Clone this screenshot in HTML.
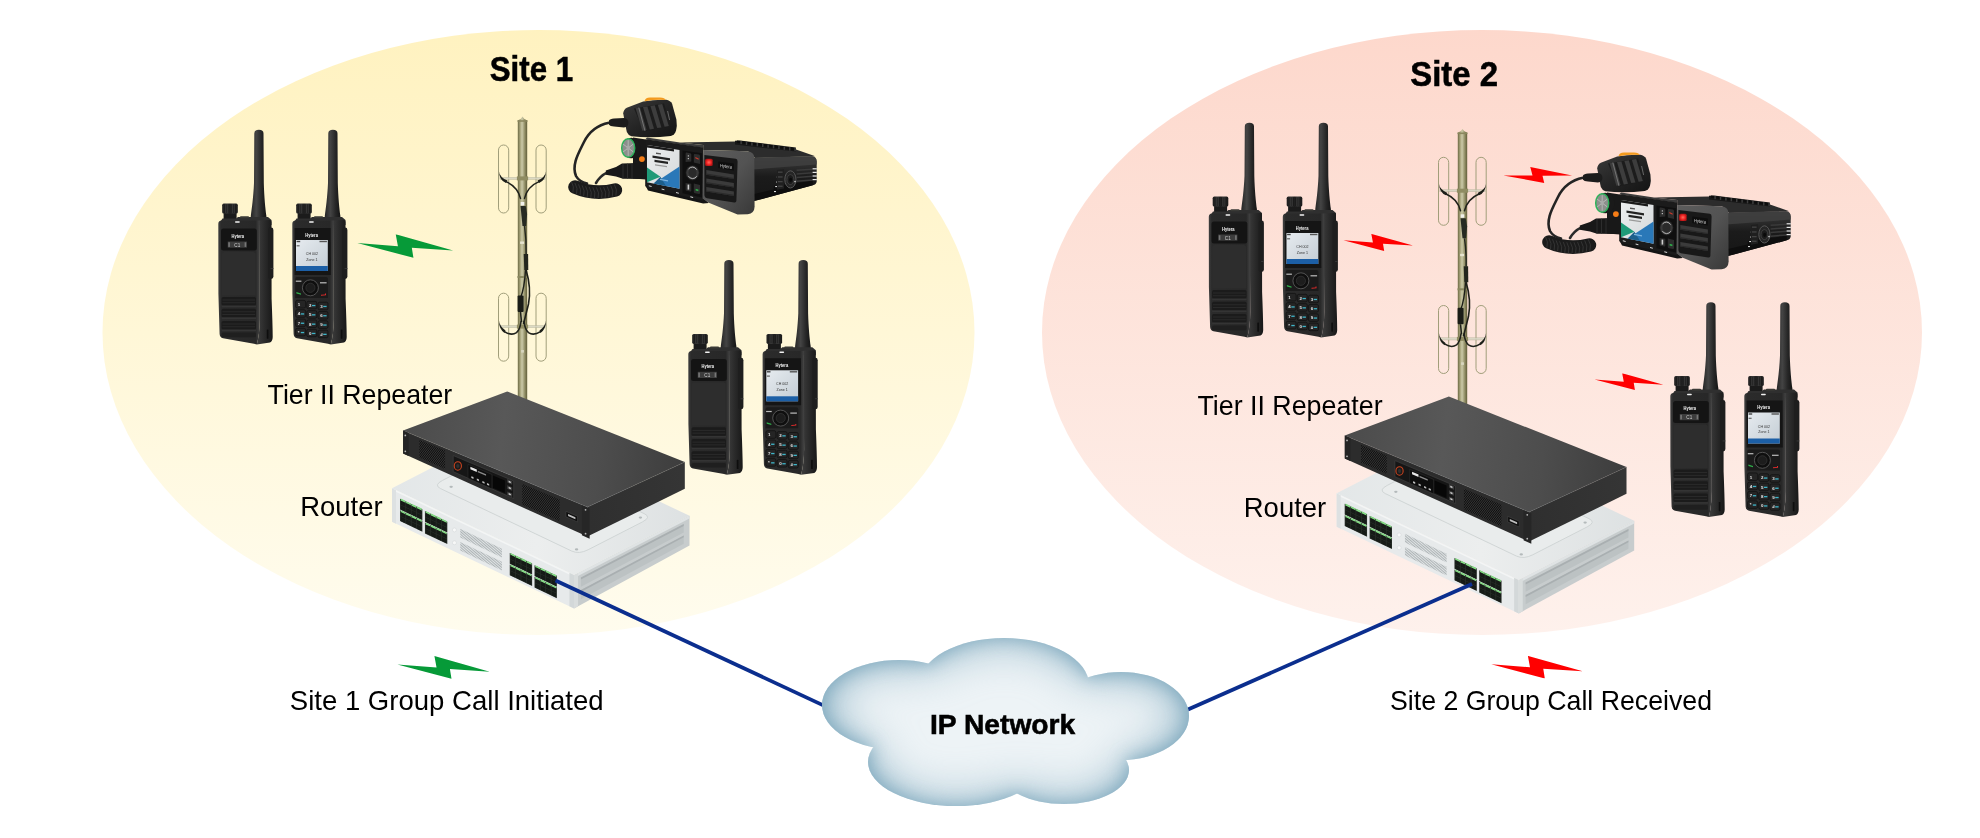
<!DOCTYPE html>
<html><head><meta charset="utf-8"><title>Multi-site group call</title>
<style>
html,body{margin:0;padding:0;background:#fff;}
body{width:1980px;height:838px;overflow:hidden;font-family:"Liberation Sans",sans-serif;}
svg{display:block;will-change:transform;}
text{font-family:"Liberation Sans",sans-serif;fill:#000;}
</style></head><body>
<svg width="1980" height="838" viewBox="0 0 1980 838">
<defs>
<linearGradient id="gY" x1="0" y1="0" x2="0" y2="1"><stop offset="0" stop-color="#FFF2C0"/><stop offset="1" stop-color="#FFFCEE"/></linearGradient>
<linearGradient id="gP" x1="0" y1="0" x2="0" y2="1"><stop offset="0" stop-color="#FDD8CC"/><stop offset="1" stop-color="#FEF1EC"/></linearGradient>
<radialGradient id="gC" cx="0.5" cy="0.5" r="0.5"><stop offset="0" stop-color="#F1F6F9"/><stop offset="0.6" stop-color="#DCE8EE"/><stop offset="0.85" stop-color="#C2D6E0"/><stop offset="1" stop-color="#A8C4D2"/></radialGradient>
<symbol id="bolt" viewBox="0 0 100 25" preserveAspectRatio="none"><polygon points="0,9.2 42.4,12.5 40.1,0 100,17 56.9,14.2 58.6,24.8"/></symbol>

<linearGradient id="antG" x1="0" y1="0" x2="1" y2="0"><stop offset="0" stop-color="#262626"/><stop offset="0.35" stop-color="#444"/><stop offset="0.7" stop-color="#262626"/><stop offset="1" stop-color="#141414"/></linearGradient>
<linearGradient id="knobG" x1="0" y1="0" x2="1" y2="0"><stop offset="0" stop-color="#1a1a1a"/><stop offset="0.3" stop-color="#3c3c3c"/><stop offset="0.5" stop-color="#202020"/><stop offset="0.7" stop-color="#3a3a3a"/><stop offset="1" stop-color="#161616"/></linearGradient>
<linearGradient id="frontG" x1="0" y1="0" x2="1" y2="0"><stop offset="0" stop-color="#404040"/><stop offset="0.07" stop-color="#2b2b2b"/><stop offset="0.9" stop-color="#282828"/><stop offset="1" stop-color="#444"/></linearGradient>
<linearGradient id="sideG" x1="0" y1="0" x2="1" y2="0"><stop offset="0" stop-color="#3e3e3e"/><stop offset="0.5" stop-color="#2a2a2a"/><stop offset="1" stop-color="#181818"/></linearGradient>
<linearGradient id="scrG" x1="0" y1="0" x2="1" y2="1"><stop offset="0" stop-color="#e6ebef"/><stop offset="1" stop-color="#c3ccd4"/></linearGradient>
<g id="radioA"><path d="M36.3,4.5 Q36.3,0.8 40.9,0.8 Q45.5,0.8 45.5,4.5 L45.8,54 C46.2,68 47.4,80 48.4,87 L48.4,92 L32.8,92 L32.8,87 C33.8,80 35.4,68 36,54 Z" fill="url(#antG)"/><rect x="5.6" y="84" width="13" height="8" fill="#1b1b1b"/><rect x="4.2" y="74.6" width="15.6" height="10" rx="1.6" fill="url(#knobG)"/><rect x="6.2" y="75.4" width="0.7" height="8.6" fill="#0f0f0f" opacity="0.7"/><rect x="8.4" y="75.4" width="0.7" height="8.6" fill="#0f0f0f" opacity="0.7"/><rect x="10.6" y="75.4" width="0.7" height="8.6" fill="#0f0f0f" opacity="0.7"/><rect x="12.8" y="75.4" width="0.7" height="8.6" fill="#0f0f0f" opacity="0.7"/><rect x="15" y="75.4" width="0.7" height="8.6" fill="#0f0f0f" opacity="0.7"/><rect x="17.2" y="75.4" width="0.7" height="8.6" fill="#0f0f0f" opacity="0.7"/><path d="M2.5,92.5 L4.5,89.6 L18,89.6 L20,88 L50,88 L53.5,91 L53.5,96 L2.5,96 Z" fill="#2f2f2f"/><rect x="22" y="87.2" width="9" height="2" rx="0.8" fill="#3a3a36"/><path d="M41,91.5 L52,91 Q53.4,91 53.5,93 L53.6,170 Q54.6,195 54.7,208 Q54.6,212.4 52,213.6 L38.8,215.5 Q41.6,205 41.8,190 Z" fill="url(#sideG)"/><rect x="48.8" y="200.5" width="1.7" height="9.2" rx="0.6" fill="#0e0e0e"/><rect x="50" y="98.5" width="5.4" height="51.5" rx="2.4" fill="#1e1e1e"/><rect x="52.6" y="139" width="2.8" height="0.9" fill="#3a3a3a"/><path d="M0.3,95 Q0.3,91.8 3.4,91.6 L41.6,91.6 L41.9,190 Q41.7,205 38.8,215.5 L36,214.8 L5,209.2 Q1.8,208.6 1.6,205 L0.4,165 Z" fill="url(#frontG)"/><rect x="17" y="92.2" width="4.8" height="1.5" rx="0.7" fill="#f2f2f2"/><rect x="3" y="99.6" width="35.8" height="22" rx="2.5" fill="#141414"/><text x="19.8" y="108.8" font-size="5.2" font-weight="700" text-anchor="middle" style="fill:#f4f4f4" textLength="12.6" lengthAdjust="spacingAndGlyphs">Hytera</text><rect x="9.7" y="112.5" width="19.2" height="6.2" fill="#3d3d3d"/><text x="19.3" y="117.6" font-size="4.6" text-anchor="middle" style="fill:#cfcfcf">C1</text><rect x="10.3" y="113.3" width="1.6" height="4.6" fill="#777"/><rect x="26.6" y="113.3" width="1.6" height="4.6" fill="#777"/><path d="M3.6,125.5 Q3.6,123 6,123 L35.4,123 Q37.8,123 37.8,125.5 L37.8,166.5 L3.6,166.5 Z" fill="#2d2d2d"/><rect x="3.6" y="168" width="34.4" height="8.6" rx="1.5" fill="#1b1b1b"/><rect x="4.4" y="170.6" width="32.8" height="0.8" fill="#2e2e2e"/><rect x="4.4" y="173.4" width="32.8" height="0.8" fill="#2e2e2e"/><rect x="3.6" y="176.6" width="34.4" height="1.6" fill="#343434"/><rect x="3.6" y="179.8" width="34.4" height="8.6" rx="1.5" fill="#1b1b1b"/><rect x="4.4" y="182.4" width="32.8" height="0.8" fill="#2e2e2e"/><rect x="4.4" y="185.20000000000002" width="32.8" height="0.8" fill="#2e2e2e"/><rect x="3.6" y="188.4" width="34.4" height="1.6" fill="#343434"/><rect x="3.6" y="192" width="34.4" height="8.6" rx="1.5" fill="#1b1b1b"/><rect x="4.4" y="194.6" width="32.8" height="0.8" fill="#2e2e2e"/><rect x="4.4" y="197.4" width="32.8" height="0.8" fill="#2e2e2e"/><rect x="3.6" y="200.6" width="34.4" height="1.6" fill="#343434"/><rect x="3.6" y="203.6" width="34.4" height="4.6" rx="1.5" fill="#1f1f1f"/></g><g id="radioB"><path d="M36.3,4.5 Q36.3,0.8 40.9,0.8 Q45.5,0.8 45.5,4.5 L45.8,54 C46.2,68 47.4,80 48.4,87 L48.4,92 L32.8,92 L32.8,87 C33.8,80 35.4,68 36,54 Z" fill="url(#antG)"/><rect x="5.6" y="84" width="13" height="8" fill="#1b1b1b"/><rect x="4.2" y="74.6" width="15.6" height="10" rx="1.6" fill="url(#knobG)"/><rect x="6.2" y="75.4" width="0.7" height="8.6" fill="#0f0f0f" opacity="0.7"/><rect x="8.4" y="75.4" width="0.7" height="8.6" fill="#0f0f0f" opacity="0.7"/><rect x="10.6" y="75.4" width="0.7" height="8.6" fill="#0f0f0f" opacity="0.7"/><rect x="12.8" y="75.4" width="0.7" height="8.6" fill="#0f0f0f" opacity="0.7"/><rect x="15" y="75.4" width="0.7" height="8.6" fill="#0f0f0f" opacity="0.7"/><rect x="17.2" y="75.4" width="0.7" height="8.6" fill="#0f0f0f" opacity="0.7"/><path d="M2.5,92.5 L4.5,89.6 L18,89.6 L20,88 L50,88 L53.5,91 L53.5,96 L2.5,96 Z" fill="#2f2f2f"/><rect x="22" y="87.2" width="9" height="2" rx="0.8" fill="#3a3a36"/><path d="M41,91.5 L52,91 Q53.4,91 53.5,93 L53.6,170 Q54.6,195 54.7,208 Q54.6,212.4 52,213.6 L38.8,215.5 Q41.6,205 41.8,190 Z" fill="url(#sideG)"/><rect x="48.8" y="200.5" width="1.7" height="9.2" rx="0.6" fill="#0e0e0e"/><rect x="50" y="98.5" width="5.4" height="51.5" rx="2.4" fill="#1e1e1e"/><rect x="52.6" y="139" width="2.8" height="0.9" fill="#3a3a3a"/><path d="M0.3,95 Q0.3,91.8 3.4,91.6 L41.6,91.6 L41.9,190 Q41.7,205 38.8,215.5 L36,214.8 L5,209.2 Q1.8,208.6 1.6,205 L0.4,165 Z" fill="url(#frontG)"/><rect x="17" y="92.2" width="4.8" height="1.5" rx="0.7" fill="#f2f2f2"/><path d="M2.6,99 L38.6,99 L38.8,146 L2.6,146 Z" fill="#151515"/><text x="19.6" y="107.8" font-size="5.2" font-weight="700" text-anchor="middle" style="fill:#f4f4f4" textLength="12.6" lengthAdjust="spacingAndGlyphs">Hytera</text><rect x="4" y="111" width="31.8" height="31" fill="url(#scrG)"/><rect x="4" y="137" width="31.8" height="5" fill="#1c5fa6"/><rect x="4.6" y="111.8" width="3.6" height="1.4" fill="#444"/><rect x="27.5" y="111.8" width="7.4" height="1.4" fill="#555"/><rect x="4.6" y="116.2" width="3" height="1.2" fill="#666"/><text x="19.9" y="126" font-size="3.6" text-anchor="middle" style="fill:#333">CH 002</text><text x="19.9" y="131.8" font-size="3.6" text-anchor="middle" style="fill:#333">Zone 1</text><path d="M3.2,150 Q3.2,148 5.2,148 L34,148 Q36,148 36,150 L36,169 L3.2,169 Z" fill="#1b1b1b"/><circle cx="18.4" cy="158.8" r="8" fill="#0f0f0f" stroke="#5a5a5a" stroke-width="0.9"/><circle cx="18.4" cy="158.8" r="4.6" fill="#1d1d1d" stroke="#3a3a3a" stroke-width="0.6"/><rect x="3.8" y="151.6" width="5.6" height="1.2" fill="#bdbdbd"/><rect x="28" y="153.2" width="6.6" height="1.2" fill="#bdbdbd"/><path d="M4.4,163 l4.6,1.4 l0,1.4 l-4.6,-1.4z" fill="#2fae4a"/><path d="M29,166.8 l5,-0.6 l0,-1.6 l-1,0 l0,0.8 l-4,0.4z" fill="#e02b2b"/><rect x="3.6" y="171.4" width="10" height="7.6" rx="1.6" fill="#252525" stroke="#0c0c0c" stroke-width="0.6"/><text x="5.8" y="177.0" font-size="4.4" font-weight="700" style="fill:#e8e8e8">1</text><rect x="14.8" y="172.3" width="10" height="7.6" rx="1.6" fill="#252525" stroke="#0c0c0c" stroke-width="0.6"/><text x="17.0" y="177.9" font-size="4.4" font-weight="700" style="fill:#e8e8e8">2</text><rect x="20.0" y="175.9" width="3.4" height="1.3" fill="#3fb5c9"/><rect x="26.0" y="173.2" width="10" height="7.6" rx="1.6" fill="#252525" stroke="#0c0c0c" stroke-width="0.6"/><text x="28.2" y="178.8" font-size="4.4" font-weight="700" style="fill:#e8e8e8">3</text><rect x="31.2" y="176.8" width="3.4" height="1.3" fill="#3fb5c9"/><rect x="3.6" y="180.7" width="10" height="7.6" rx="1.6" fill="#252525" stroke="#0c0c0c" stroke-width="0.6"/><text x="5.8" y="186.3" font-size="4.4" font-weight="700" style="fill:#e8e8e8">4</text><rect x="8.8" y="184.3" width="3.4" height="1.3" fill="#3fb5c9"/><rect x="14.8" y="181.6" width="10" height="7.6" rx="1.6" fill="#252525" stroke="#0c0c0c" stroke-width="0.6"/><text x="17.0" y="187.2" font-size="4.4" font-weight="700" style="fill:#e8e8e8">5</text><rect x="20.0" y="185.2" width="3.4" height="1.3" fill="#3fb5c9"/><rect x="26.0" y="182.5" width="10" height="7.6" rx="1.6" fill="#252525" stroke="#0c0c0c" stroke-width="0.6"/><text x="28.2" y="188.1" font-size="4.4" font-weight="700" style="fill:#e8e8e8">6</text><rect x="31.2" y="186.1" width="3.4" height="1.3" fill="#3fb5c9"/><rect x="3.6" y="190.0" width="10" height="7.6" rx="1.6" fill="#252525" stroke="#0c0c0c" stroke-width="0.6"/><text x="5.8" y="195.6" font-size="4.4" font-weight="700" style="fill:#e8e8e8">7</text><rect x="8.8" y="193.6" width="3.4" height="1.3" fill="#3fb5c9"/><rect x="14.8" y="190.9" width="10" height="7.6" rx="1.6" fill="#252525" stroke="#0c0c0c" stroke-width="0.6"/><text x="17.0" y="196.5" font-size="4.4" font-weight="700" style="fill:#e8e8e8">8</text><rect x="20.0" y="194.5" width="3.4" height="1.3" fill="#3fb5c9"/><rect x="26.0" y="191.8" width="10" height="7.6" rx="1.6" fill="#252525" stroke="#0c0c0c" stroke-width="0.6"/><text x="28.2" y="197.4" font-size="4.4" font-weight="700" style="fill:#e8e8e8">9</text><rect x="31.2" y="195.4" width="3.4" height="1.3" fill="#3fb5c9"/><rect x="3.6" y="199.3" width="10" height="7.6" rx="1.6" fill="#252525" stroke="#0c0c0c" stroke-width="0.6"/><text x="5.8" y="204.9" font-size="4.4" font-weight="700" style="fill:#e8e8e8">*</text><rect x="8.8" y="202.9" width="3.4" height="1.3" fill="#3fb5c9"/><rect x="14.8" y="200.2" width="10" height="7.6" rx="1.6" fill="#252525" stroke="#0c0c0c" stroke-width="0.6"/><text x="17.0" y="205.8" font-size="4.4" font-weight="700" style="fill:#e8e8e8">0</text><rect x="20.0" y="203.8" width="3.4" height="1.3" fill="#3fb5c9"/><rect x="26.0" y="201.1" width="10" height="7.6" rx="1.6" fill="#252525" stroke="#0c0c0c" stroke-width="0.6"/><text x="28.2" y="206.7" font-size="4.4" font-weight="700" style="fill:#e8e8e8">#</text><rect x="31.2" y="204.7" width="3.4" height="1.3" fill="#3fb5c9"/></g>
<linearGradient id="poleG" x1="0" y1="0" x2="1" y2="0"><stop offset="0" stop-color="#6c6943"/><stop offset="0.25" stop-color="#a8a57c"/><stop offset="0.45" stop-color="#cbc9a8"/><stop offset="0.75" stop-color="#908d64"/><stop offset="1" stop-color="#615e3a"/></linearGradient>
<g id="tower"><path d="M-4.7,2.5 L-1.6,0.8 L0,-1.4 L1.6,0.8 L4.7,2.5 L4.7,284 L-4.7,284 Z" fill="url(#poleG)"/><rect x="-5" y="2.2" width="10" height="1.6" fill="#8a875e"/><rect x="-24.0" y="27" width="10.2" height="68" rx="5.1" fill="none" stroke="#a19e7a" stroke-width="1"/><rect x="13.5" y="27" width="10.2" height="68" rx="5.1" fill="none" stroke="#a19e7a" stroke-width="1"/><rect x="-22.6" y="59.3" width="45.2" height="2.2" fill="#d6d5c2" stroke="#a9a78e" stroke-width="0.4" opacity="0.85"/><rect x="-5.6" y="58.4" width="11.2" height="4" fill="#8f8c62"/><path d="M-23.6,53.4 Q-22.6,59.4 -15,62.6 L-16.5,65.0 Q-23,62.4 -23.6,53.4 Z" fill="#1d1f19"/><path d="M-17,63.4 Q-5,68.4 -2,80.4" fill="none" stroke="#1f211b" stroke-width="1.5" stroke-linecap="round"/><path d="M23.6,53.4 Q22.6,59.4 15,62.6 L16.5,65.0 Q23,62.4 23.6,53.4 Z" fill="#1d1f19"/><path d="M17,63.4 Q5,68.4 2,80.4" fill="none" stroke="#1f211b" stroke-width="1.5" stroke-linecap="round"/><rect x="-24.0" y="175.2" width="10.2" height="68" rx="5.1" fill="none" stroke="#a19e7a" stroke-width="1"/><rect x="13.5" y="175.2" width="10.2" height="68" rx="5.1" fill="none" stroke="#a19e7a" stroke-width="1"/><rect x="-22.6" y="207.5" width="45.2" height="2.2" fill="#d6d5c2" stroke="#a9a78e" stroke-width="0.4" opacity="0.85"/><rect x="-5.6" y="206.6" width="11.2" height="4" fill="#8f8c62"/><path d="M-23.6,202.6 Q-22.8,208.6 -17,212.6 L-18,215.0 Q-23.4,211.6 -23.6,202.6 Z" fill="#1d1f19"/><path d="M-18,213.6 Q-11,218.1 -6,214.6 Q-2.5,211.6 -1.5,203.6" fill="none" stroke="#1f211b" stroke-width="1.5" stroke-linecap="round"/><path d="M23.6,202.6 Q22.8,208.6 17,212.6 L18,215.0 Q23.4,211.6 23.6,202.6 Z" fill="#1d1f19"/><path d="M18,213.6 Q11,218.1 6,214.6 Q2.5,211.6 1.5,203.6" fill="none" stroke="#1f211b" stroke-width="1.5" stroke-linecap="round"/><rect x="-1.8" y="84" width="3.6" height="3.4" fill="#f1f1ec"/><path d="M-2,88 L3.2,88 L4.6,96 L3.6,108 L0,108 Z" fill="#262a22"/><path d="M2,108 Q4,122 3.6,136" fill="none" stroke="#23261e" stroke-width="1.4"/><rect x="-2.4" y="123.5" width="4" height="2.4" fill="#e6e4d0"/><path d="M1.2,136 L5.6,136 L5.8,152 L1.8,152 Z" fill="#23261e"/><rect x="-5" y="158" width="10" height="2" fill="#8a8860"/><path d="M3.6,152 Q9,170 6,186 Q3,198 1,206" fill="none" stroke="#1d1f19" stroke-width="1.6"/><path d="M3,152 Q2,170 -2,180" fill="none" stroke="#1d1f19" stroke-width="1.4"/><rect x="-4.9" y="177.5" width="6" height="16.5" rx="1" fill="#1a1c17"/><path d="M-2,194 L-1,204" stroke="#1d1f19" stroke-width="1.5"/><rect x="-1.4" y="232" width="2.8" height="2.6" fill="#d8d6c0"/></g>
<linearGradient id="repTop" gradientUnits="userSpaceOnUse" x1="403" y1="430" x2="685" y2="462"><stop offset="0" stop-color="#4b4b4b"/><stop offset="0.35" stop-color="#585858"/><stop offset="0.7" stop-color="#4d4d4d"/><stop offset="1" stop-color="#3d3d3d"/></linearGradient>
<linearGradient id="repSide" gradientUnits="userSpaceOnUse" x1="587" y1="507" x2="685" y2="489"><stop offset="0" stop-color="#2f2f2f"/><stop offset="1" stop-color="#353535"/></linearGradient>
<linearGradient id="rtTop" gradientUnits="userSpaceOnUse" x1="392" y1="488" x2="690" y2="516"><stop offset="0" stop-color="#e3e7e8"/><stop offset="0.5" stop-color="#eceeee"/><stop offset="1" stop-color="#dde1e2"/></linearGradient>
<pattern id="meshD" width="1.7" height="1.7" patternUnits="userSpaceOnUse" patternTransform="rotate(38)"><rect width="1.7" height="1.7" fill="#383838"/><rect width="0.9" height="1.7" fill="#0c0c0c"/></pattern>
<pattern id="meshL" width="1.3" height="1.3" patternUnits="userSpaceOnUse" patternTransform="rotate(30)"><rect width="1.3" height="1.3" fill="#dfe3e4"/><rect width="0.6" height="1.3" fill="#aab0b2"/></pattern>
<g id="repeater"><polygon points="587.40,507.00 684.80,462.10 684.80,488.80 587.40,536.60" fill="url(#repSide)"/><polygon points="403.10,430.60 587.40,507.00 587.40,536.60 403.10,453.50" fill="#2c2c2c"/><polygon points="403.10,430.60 507.20,391.50 684.80,462.10 587.40,507.00" fill="url(#repTop)"/><polyline points="403.10,430.60 587.40,507.00 684.80,462.10" fill="none" stroke="#6a6a6a" stroke-width="0.6" opacity="0.6"/><polygon points="403.10,430.60 408.63,432.89 408.63,455.99 403.10,453.50" fill="#242424"/><polygon points="581.87,505.30 589.61,508.51 589.61,538.78 581.87,535.28" fill="#262626"/><circle cx="405.31" cy="435.42" r="0.9" fill="#b8b8b8"/><circle cx="405.31" cy="451.28" r="0.9" fill="#b8b8b8"/><circle cx="585.56" cy="509.78" r="0.9" fill="#b8b8b8"/><circle cx="585.56" cy="533.70" r="0.9" fill="#b8b8b8"/><polygon points="419.32,439.67 445.12,450.46 445.12,469.03 419.32,457.52" fill="url(#meshD)"/><polygon points="522.16,483.77 559.75,499.54 559.75,521.28 522.16,504.46" fill="url(#meshD)"/><polygon points="453.23,455.58 513.68,481.02 513.68,498.51 453.23,471.65" fill="#161616" stroke="#4b4b4b" stroke-width="0.5"/><ellipse cx="457.84" cy="465.98" rx="3.6" ry="4.3" fill="#1a1a1a" stroke="#c8431f" stroke-width="1.1"/><ellipse cx="457.84" cy="465.98" rx="1.6" ry="2.1" fill="#303030"/><polygon points="467.97,464.31 491.93,474.48 491.93,488.85 467.97,478.20" fill="#0d0d0d" stroke="#3d3d3d" stroke-width="0.4"/><polygon points="470.37,466.85 476.82,469.60 476.82,471.90 470.37,469.13" fill="#e8e8e8"/><polygon points="477.74,470.76 486.04,474.31 486.04,475.86 477.74,472.30" fill="#8a8a8a"/><polygon points="471.29,476.13 473.50,477.10 473.50,478.88 471.29,477.90" fill="#bdbdbd"/><polygon points="476.82,478.55 479.03,479.53 479.03,481.32 476.82,480.35" fill="#bdbdbd"/><polygon points="482.35,480.98 484.56,481.95 484.56,483.76 482.35,482.79" fill="#bdbdbd"/><polygon points="486.96,483.01 489.17,483.98 489.17,485.80 486.96,484.82" fill="#bdbdbd"/><polygon points="492.85,475.39 504.83,480.49 504.83,492.99 492.85,487.69" fill="#070707"/><polygon points="507.23,479.10 512.21,481.20 512.21,484.69 507.23,482.57" fill="#3f3f3f"/><polygon points="508.70,480.79 510.73,481.65 510.73,482.99 508.70,482.13" fill="#e0e0e0"/><polygon points="507.23,485.24 512.21,487.38 512.21,490.87 507.23,488.71" fill="#3f3f3f"/><polygon points="508.70,486.94 510.73,487.82 510.73,489.16 508.70,488.28" fill="#e0e0e0"/><polygon points="507.23,491.38 512.21,493.56 512.21,497.05 507.23,494.85" fill="#3f3f3f"/><polygon points="508.70,493.09 510.73,493.99 510.73,495.33 508.70,494.43" fill="#e0e0e0"/><polygon points="566.02,511.40 577.45,516.32 577.45,521.88 566.02,516.87" fill="#0e0e0e" stroke="#555" stroke-width="0.4"/><polygon points="568.05,514.00 575.42,517.20 575.42,519.24 568.05,516.03" fill="#bdbdbd"/></g><g id="router"><polygon points="574.00,575.00 689.50,515.80 689.50,545.40 574.00,608.40" fill="#c7cccd"/><polygon points="577.47,573.22 689.50,515.80 689.50,518.46 577.47,576.22" fill="#dfe3e4"/><polygon points="580.93,577.42 683.73,524.12 683.73,532.46 580.93,586.71" fill="#bcc2c3"/><polygon points="580.93,577.42 683.73,524.12 683.73,525.91 580.93,579.41" fill="#a9afb1"/><polygon points="580.93,590.02 683.73,535.44 683.73,543.78 580.93,599.31" fill="#bcc2c3"/><polygon points="580.93,590.02 683.73,535.44 683.73,537.23 580.93,592.01" fill="#a9afb1"/><polygon points="574.00,575.00 578.04,572.93 578.04,606.19 574.00,608.40" fill="#d9dddd"/><polygon points="392.00,488.30 507.50,429.10 689.50,515.80 574.00,575.00" fill="url(#rtTop)"/><path d="M440.58,488.60 L571.62,551.02 Q578.90,554.49 588.14,549.75 L642.42,521.93 Q651.66,517.19 644.38,513.73 L513.35,451.30 Q506.06,447.83 496.82,452.57 L442.54,480.39 Q433.30,485.13 440.58,488.60 Z" fill="#e9ecec" stroke="#cdd2d3" stroke-width="0.9"/><ellipse cx="451.15" cy="486.78" rx="1.7" ry="1.1" fill="#b4babb"/><ellipse cx="576.57" cy="549.38" rx="1.7" ry="1.1" fill="#b4babb"/><ellipse cx="640.43" cy="517.55" rx="1.7" ry="1.1" fill="#b4babb"/><polygon points="392.00,488.30 574.00,575.00 574.00,608.40 392.00,521.80" fill="#e7eaeb"/><polygon points="392.00,488.30 574.00,575.00 574.00,576.67 392.00,489.98" fill="#f3f5f5"/><polygon points="392.00,488.30 396.00,490.21 396.00,523.71 392.00,521.80" fill="#dde1e2"/><polygon points="569.45,572.83 574.00,575.00 574.00,608.40 569.45,606.24" fill="#d3d8d9"/><polygon points="400.01,498.65 422.39,509.31 422.39,520.19 400.01,509.53" fill="#2a312b"/><polygon points="400.74,498.59 405.42,500.82 405.42,503.23 400.74,501.00" fill="#84dc84"/><polygon points="400.74,500.50 405.42,502.73 405.42,506.92 400.74,504.69" fill="#161b17"/><polygon points="400.74,505.19 405.42,507.42 405.42,511.61 400.74,509.38" fill="#161b17"/><polygon points="406.15,501.17 410.84,503.40 410.84,505.81 406.15,503.58" fill="#84dc84"/><polygon points="406.15,503.08 410.84,505.31 410.84,509.50 406.15,507.27" fill="#161b17"/><polygon points="406.15,507.77 410.84,510.00 410.84,514.19 406.15,511.95" fill="#161b17"/><polygon points="411.56,503.75 416.25,505.98 416.25,508.39 411.56,506.16" fill="#84dc84"/><polygon points="411.56,505.66 416.25,507.89 416.25,512.08 411.56,509.84" fill="#161b17"/><polygon points="411.56,510.35 416.25,512.58 416.25,516.76 411.56,514.53" fill="#161b17"/><polygon points="416.98,506.33 421.67,508.56 421.67,510.97 416.98,508.74" fill="#84dc84"/><polygon points="416.98,508.24 421.67,510.47 421.67,514.65 416.98,512.42" fill="#161b17"/><polygon points="416.98,512.92 421.67,515.16 421.67,519.34 416.98,517.11" fill="#161b17"/><polygon points="400.01,510.20 422.39,520.86 422.39,531.74 400.01,521.09" fill="#2a312b"/><polygon points="400.74,510.15 405.42,512.38 405.42,514.79 400.74,512.56" fill="#84dc84"/><polygon points="400.74,512.06 405.42,514.29 405.42,518.47 400.74,516.24" fill="#161b17"/><polygon points="400.74,516.75 405.42,518.98 405.42,523.16 400.74,520.93" fill="#161b17"/><polygon points="406.15,512.72 410.84,514.96 410.84,517.37 406.15,515.14" fill="#84dc84"/><polygon points="406.15,514.63 410.84,516.86 410.84,521.05 406.15,518.82" fill="#161b17"/><polygon points="406.15,519.32 410.84,521.55 410.84,525.74 406.15,523.51" fill="#161b17"/><polygon points="411.56,515.30 416.25,517.53 416.25,519.94 411.56,517.71" fill="#84dc84"/><polygon points="411.56,517.21 416.25,519.44 416.25,523.63 411.56,521.40" fill="#161b17"/><polygon points="411.56,521.90 416.25,524.13 416.25,528.32 411.56,526.09" fill="#161b17"/><polygon points="416.98,517.88 421.67,520.11 421.67,522.52 416.98,520.29" fill="#84dc84"/><polygon points="416.98,519.79 421.67,522.02 421.67,526.21 416.98,523.97" fill="#161b17"/><polygon points="416.98,524.48 421.67,526.71 421.67,530.89 416.98,528.66" fill="#161b17"/><polygon points="424.94,510.99 447.33,521.65 447.33,532.53 424.94,521.87" fill="#2a312b"/><polygon points="425.67,510.93 430.36,513.16 430.36,515.57 425.67,513.34" fill="#84dc84"/><polygon points="425.67,512.84 430.36,515.07 430.36,519.26 425.67,517.03" fill="#161b17"/><polygon points="425.67,517.53 430.36,519.76 430.36,523.94 425.67,521.71" fill="#161b17"/><polygon points="431.08,513.51 435.77,515.74 435.77,518.15 431.08,515.92" fill="#84dc84"/><polygon points="431.08,515.42 435.77,517.65 435.77,521.83 431.08,519.60" fill="#161b17"/><polygon points="431.08,520.11 435.77,522.34 435.77,526.52 431.08,524.29" fill="#161b17"/><polygon points="436.50,516.09 441.19,518.32 441.19,520.73 436.50,518.50" fill="#84dc84"/><polygon points="436.50,518.00 441.19,520.23 441.19,524.41 436.50,522.18" fill="#161b17"/><polygon points="436.50,522.68 441.19,524.92 441.19,529.10 436.50,526.87" fill="#161b17"/><polygon points="441.91,518.67 446.60,520.90 446.60,523.31 441.91,521.08" fill="#84dc84"/><polygon points="441.91,520.58 446.60,522.81 446.60,526.99 441.91,524.76" fill="#161b17"/><polygon points="441.91,525.26 446.60,527.49 446.60,531.68 441.91,529.45" fill="#161b17"/><polygon points="424.94,522.54 447.33,533.20 447.33,544.07 424.94,533.42" fill="#2a312b"/><polygon points="425.67,522.48 430.36,524.71 430.36,527.12 425.67,524.89" fill="#84dc84"/><polygon points="425.67,524.39 430.36,526.62 430.36,530.81 425.67,528.58" fill="#161b17"/><polygon points="425.67,529.08 430.36,531.31 430.36,535.49 425.67,533.26" fill="#161b17"/><polygon points="431.08,525.06 435.77,527.29 435.77,529.70 431.08,527.47" fill="#84dc84"/><polygon points="431.08,526.97 435.77,529.20 435.77,533.38 431.08,531.15" fill="#161b17"/><polygon points="431.08,531.66 435.77,533.89 435.77,538.07 431.08,535.84" fill="#161b17"/><polygon points="436.50,527.64 441.19,529.87 441.19,532.28 436.50,530.05" fill="#84dc84"/><polygon points="436.50,529.55 441.19,531.78 441.19,535.96 436.50,533.73" fill="#161b17"/><polygon points="436.50,534.23 441.19,536.46 441.19,540.65 436.50,538.42" fill="#161b17"/><polygon points="441.91,530.22 446.60,532.45 446.60,534.86 441.91,532.63" fill="#84dc84"/><polygon points="441.91,532.12 446.60,534.35 446.60,538.54 441.91,536.31" fill="#161b17"/><polygon points="441.91,536.81 446.60,539.04 446.60,543.22 441.91,540.99" fill="#161b17"/><polygon points="509.75,552.96 532.14,563.62 532.14,574.48 509.75,563.82" fill="#2a312b"/><polygon points="510.48,552.90 515.17,555.14 515.17,557.54 510.48,555.31" fill="#84dc84"/><polygon points="510.48,554.81 515.17,557.04 515.17,561.22 510.48,558.99" fill="#161b17"/><polygon points="510.48,559.49 515.17,561.72 515.17,565.90 510.48,563.67" fill="#161b17"/><polygon points="515.90,555.48 520.58,557.71 520.58,560.12 515.90,557.89" fill="#84dc84"/><polygon points="515.90,557.39 520.58,559.62 520.58,563.80 515.90,561.57" fill="#161b17"/><polygon points="515.90,562.07 520.58,564.30 520.58,568.48 515.90,566.25" fill="#161b17"/><polygon points="521.31,558.06 526.00,560.29 526.00,562.70 521.31,560.47" fill="#84dc84"/><polygon points="521.31,559.97 526.00,562.20 526.00,566.38 521.31,564.14" fill="#161b17"/><polygon points="521.31,564.65 526.00,566.88 526.00,571.06 521.31,568.82" fill="#161b17"/><polygon points="526.73,560.64 531.41,562.87 531.41,565.28 526.73,563.05" fill="#84dc84"/><polygon points="526.73,562.54 531.41,564.78 531.41,568.95 526.73,566.72" fill="#161b17"/><polygon points="526.73,567.22 531.41,569.46 531.41,573.63 526.73,571.40" fill="#161b17"/><polygon points="509.75,564.49 532.14,575.15 532.14,586.01 509.75,575.36" fill="#2a312b"/><polygon points="510.48,564.44 515.17,566.67 515.17,569.08 510.48,566.85" fill="#84dc84"/><polygon points="510.48,566.34 515.17,568.58 515.17,572.75 510.48,570.52" fill="#161b17"/><polygon points="510.48,571.03 515.17,573.26 515.17,577.43 510.48,575.20" fill="#161b17"/><polygon points="515.90,567.02 520.58,569.25 520.58,571.65 515.90,569.42" fill="#84dc84"/><polygon points="515.90,568.92 520.58,571.15 520.58,575.33 515.90,573.10" fill="#161b17"/><polygon points="515.90,573.60 520.58,575.83 520.58,580.01 515.90,577.78" fill="#161b17"/><polygon points="521.31,569.59 526.00,571.82 526.00,574.23 521.31,572.00" fill="#84dc84"/><polygon points="521.31,571.50 526.00,573.73 526.00,577.91 521.31,575.68" fill="#161b17"/><polygon points="521.31,576.18 526.00,578.41 526.00,582.59 521.31,580.36" fill="#161b17"/><polygon points="526.73,572.17 531.41,574.40 531.41,576.81 526.73,574.58" fill="#84dc84"/><polygon points="526.73,574.08 531.41,576.31 531.41,580.49 526.73,578.25" fill="#161b17"/><polygon points="526.73,578.76 531.41,580.99 531.41,585.16 526.73,582.93" fill="#161b17"/><polygon points="534.51,565.21 556.89,575.87 556.89,586.73 534.51,576.07" fill="#2a312b"/><polygon points="535.23,565.15 539.92,567.38 539.92,569.79 535.23,567.56" fill="#84dc84"/><polygon points="535.23,567.06 539.92,569.29 539.92,573.47 535.23,571.23" fill="#161b17"/><polygon points="535.23,571.74 539.92,573.97 539.92,578.14 535.23,575.91" fill="#161b17"/><polygon points="540.65,567.73 545.34,569.96 545.34,572.37 540.65,570.14" fill="#84dc84"/><polygon points="540.65,569.64 545.34,571.87 545.34,576.04 540.65,573.81" fill="#161b17"/><polygon points="540.65,574.31 545.34,576.55 545.34,580.72 540.65,578.49" fill="#161b17"/><polygon points="546.06,570.31 550.75,572.54 550.75,574.95 546.06,572.72" fill="#84dc84"/><polygon points="546.06,572.21 550.75,574.45 550.75,578.62 546.06,576.39" fill="#161b17"/><polygon points="546.06,576.89 550.75,579.12 550.75,583.30 546.06,581.07" fill="#161b17"/><polygon points="551.48,572.89 556.16,575.12 556.16,577.53 551.48,575.29" fill="#84dc84"/><polygon points="551.48,574.79 556.16,577.02 556.16,581.20 551.48,578.97" fill="#161b17"/><polygon points="551.48,579.47 556.16,581.70 556.16,585.88 551.48,583.65" fill="#161b17"/><polygon points="534.51,576.74 556.89,587.39 556.89,598.25 534.51,587.60" fill="#2a312b"/><polygon points="535.23,576.68 539.92,578.91 539.92,581.32 535.23,579.09" fill="#84dc84"/><polygon points="535.23,578.59 539.92,580.82 539.92,585.00 535.23,582.77" fill="#161b17"/><polygon points="535.23,583.27 539.92,585.50 539.92,589.67 535.23,587.44" fill="#161b17"/><polygon points="540.65,579.26 545.34,581.49 545.34,583.90 540.65,581.67" fill="#84dc84"/><polygon points="540.65,581.16 545.34,583.40 545.34,587.57 540.65,585.34" fill="#161b17"/><polygon points="540.65,585.84 545.34,588.07 545.34,592.25 540.65,590.02" fill="#161b17"/><polygon points="546.06,581.84 550.75,584.07 550.75,586.47 546.06,584.24" fill="#84dc84"/><polygon points="546.06,583.74 550.75,585.97 550.75,590.15 546.06,587.92" fill="#161b17"/><polygon points="546.06,588.42 550.75,590.65 550.75,594.83 546.06,592.60" fill="#161b17"/><polygon points="551.48,584.42 556.16,586.65 556.16,589.05 551.48,586.82" fill="#84dc84"/><polygon points="551.48,586.32 556.16,588.55 556.16,592.73 551.48,590.50" fill="#161b17"/><polygon points="551.48,591.00 556.16,593.23 556.16,597.40 551.48,595.17" fill="#161b17"/><circle cx="454.43" cy="529.92" r="2" fill="#f7f8f8" stroke="#d0d5d6" stroke-width="0.5"/><circle cx="454.43" cy="542.80" r="2" fill="#f7f8f8" stroke="#d0d5d6" stroke-width="0.5"/><polygon points="460.25,528.84 501.93,548.69 501.93,557.39 460.25,537.54" fill="url(#meshL)"/><polygon points="460.25,541.89 501.93,561.73 501.93,570.43 460.25,550.59" fill="url(#meshL)"/></g>
<linearGradient id="micG" x1="0" y1="0" x2="1" y2="1"><stop offset="0" stop-color="#3a3a3a"/><stop offset="0.5" stop-color="#242424"/><stop offset="1" stop-color="#141414"/></linearGradient>
<linearGradient id="bezG" x1="0" y1="0" x2="1" y2="1"><stop offset="0" stop-color="#5c5c5c"/><stop offset="0.5" stop-color="#535353"/><stop offset="1" stop-color="#383838"/></linearGradient>
<linearGradient id="mSide" x1="0" y1="0" x2="0" y2="1"><stop offset="0" stop-color="#3c3c3c"/><stop offset="0.25" stop-color="#2a2a2a"/><stop offset="0.45" stop-color="#1b1b1b"/><stop offset="1" stop-color="#161616"/></linearGradient>
<linearGradient id="mScr" x1="0" y1="0" x2="1" y2="1"><stop offset="0" stop-color="#eceeef"/><stop offset="1" stop-color="#d5d8da"/></linearGradient>
<radialGradient id="redB" cx="0.5" cy="0.5" r="0.5"><stop offset="0" stop-color="#ff6a5a"/><stop offset="0.6" stop-color="#f02626"/><stop offset="1" stop-color="#b01414"/></radialGradient>
<g id="mobile"><polygon points="120,52.5 175,51.4 235.3,59.2 255.3,66.3 195.2,68 188,61.3 143.2,60.1 143.2,55" fill="#2c2c2c"/><polygon points="175,50.8 180,50.4 235.8,57.6 236,61.6 175,54.6" fill="#171717"/><polygon points="177.0,50.60 180.4,51.00 180.4,53.20 177.0,52.80" fill="#0d0d0d"/><rect x="180.4" y="50.90" width="1.4" height="3.3" fill="#3d3d3d"/><polygon points="182.4,51.30 185.8,51.70 185.8,53.90 182.4,53.50" fill="#0d0d0d"/><rect x="185.8" y="51.60" width="1.4" height="3.3" fill="#3d3d3d"/><polygon points="187.8,52.00 191.2,52.40 191.2,54.60 187.8,54.20" fill="#0d0d0d"/><rect x="191.2" y="52.30" width="1.4" height="3.3" fill="#3d3d3d"/><polygon points="193.2,52.70 196.6,53.10 196.6,55.30 193.2,54.90" fill="#0d0d0d"/><rect x="196.6" y="53.00" width="1.4" height="3.3" fill="#3d3d3d"/><polygon points="198.6,53.40 202.0,53.80 202.0,56.00 198.6,55.60" fill="#0d0d0d"/><rect x="202.0" y="53.70" width="1.4" height="3.3" fill="#3d3d3d"/><polygon points="204.0,54.10 207.4,54.50 207.4,56.70 204.0,56.30" fill="#0d0d0d"/><rect x="207.4" y="54.40" width="1.4" height="3.3" fill="#3d3d3d"/><polygon points="209.4,54.80 212.8,55.20 212.8,57.40 209.4,57.00" fill="#0d0d0d"/><rect x="212.8" y="55.10" width="1.4" height="3.3" fill="#3d3d3d"/><polygon points="214.8,55.50 218.2,55.90 218.2,58.10 214.8,57.70" fill="#0d0d0d"/><rect x="218.2" y="55.80" width="1.4" height="3.3" fill="#3d3d3d"/><polygon points="220.2,56.20 223.6,56.60 223.6,58.80 220.2,58.40" fill="#0d0d0d"/><rect x="223.6" y="56.50" width="1.4" height="3.3" fill="#3d3d3d"/><polygon points="225.6,56.90 229.0,57.30 229.0,59.50 225.6,59.10" fill="#0d0d0d"/><rect x="229.0" y="57.20" width="1.4" height="3.3" fill="#3d3d3d"/><polygon points="231.0,57.60 234.4,58.00 234.4,60.20 231.0,59.80" fill="#0d0d0d"/><rect x="234.4" y="57.90" width="1.4" height="3.3" fill="#3d3d3d"/><path d="M192,67.8 L252,66.2 Q256.4,66.4 256.7,71.5 L256.7,91.4 Q256.4,94.4 252.8,95.3 L192,111.6 Z" fill="url(#mSide)"/><path d="M192,67.8 L252,66.2 Q256.4,66.4 256.7,71.5 L256.7,74.6 L192,79.6 Z" fill="#404040" opacity="0.85"/><polygon points="192,104.6 213.5,99.5 214,96 252.8,90.8 252.8,95.3 192,111.6" fill="#0e0e0e"/><polygon points="236.6,79.6 252.6,78.4 252.6,79.9 236.6,81.1" fill="#3a3a3a"/><rect x="252.6" y="78.2" width="4.2" height="1.2" fill="#e9e9e9"/><polygon points="236.6,83.2 252.6,82.0 252.6,83.5 236.6,84.7" fill="#3a3a3a"/><rect x="252.6" y="81.8" width="4.2" height="1.2" fill="#e9e9e9"/><polygon points="236.6,86.8 252.6,85.6 252.6,87.1 236.6,88.3" fill="#3a3a3a"/><rect x="252.6" y="85.4" width="4.2" height="1.2" fill="#e9e9e9"/><polygon points="236.6,90.4 252.6,89.2 252.6,90.7 236.6,91.9" fill="#3a3a3a"/><rect x="252.6" y="89.0" width="4.2" height="1.2" fill="#e9e9e9"/><ellipse cx="230.4" cy="89.4" rx="5.6" ry="8.6" fill="#262626" stroke="#585858" stroke-width="1"/><ellipse cx="230.4" cy="89.6" rx="3.4" ry="5" fill="#1b1b1b" stroke="#4a4a4a" stroke-width="0.7"/><ellipse cx="230.6" cy="89.8" rx="1.5" ry="2.1" fill="#0a0a0a"/><circle cx="235" cy="91.6" r="0.8" fill="#cfcfcf"/><rect x="219" y="81.5" width="2" height="1.1" fill="#e0e0e0"/><rect x="216.8" y="86.5" width="2" height="1.1" fill="#e0e0e0"/><rect x="216.3" y="91.5" width="2" height="1.1" fill="#e0e0e0"/><rect x="215.2" y="96" width="2" height="1.1" fill="#e0e0e0"/><rect x="214" y="101" width="2" height="1.1" fill="#e0e0e0"/><polygon points="217,80 224,79.2 224,98.5 217,99.8" fill="#1f1f1f"/><rect x="218" y="81.5" width="4.6" height="1.3" fill="#444"/><rect x="218" y="86.3" width="4.6" height="1.3" fill="#444"/><rect x="218" y="91" width="4.6" height="1.3" fill="#444"/><rect x="218" y="95.6" width="4.6" height="1.3" fill="#444"/><polygon points="85.2,95 143.2,108 148.8,113 143.2,113.4 88,100.5" fill="#141414"/><polygon points="87,47.6 120,52.5 143.2,55 143.2,58 85.2,49.6" fill="#3b3b3b"/><path d="M85.2,51.5 Q85.2,49.2 87.6,49.6 L143.2,57.5 L143.2,110.4 L87.5,97.9 Q85.2,97.3 85.2,95 Z" fill="#1b1b1b"/><polygon points="87,55.1 119.5,60.1 119.5,98.8 87,92.3" fill="url(#mScr)"/><polygon points="87,55.1 114,59.25 114,61.6 87,57.6" fill="#1a1a1a"/><polygon points="119.5,76.6 119.5,98.8 93.7,93.6" fill="#2a78b8"/><polygon points="87,77.6 100.4,86.8 87,92.3" fill="#1f9a78"/><polygon points="93.7,93.6 100.4,86.8 106,96.1 " fill="#1d5f8c"/><polygon points="96,62.6 101,63.3 101,64.6 96,63.9" fill="#555"/><polygon points="92.5,65.6 110,68.2 110,70.4 92.5,67.8" fill="#222"/><polygon points="94.5,69.8 108,71.8 108,74 94.5,72" fill="#222"/><polygon points="95,74.2 107,76 107,77.3 95,75.5" fill="#999"/><polygon points="100,88.8 108,90.2 108,91.5 100,90.1" fill="#7fb6e0"/><polygon points="122.5,60.5 142,63.3 142,107.5 122.5,103.2" fill="#0f0f0f"/><path d="M125.6,63.6 Q125.6,62.4 126.8,62.6 L130.2,63.2 Q131.3,63.4 131.3,64.6 L131.3,71.4 L125.6,72 Z" fill="#2d2d2d"/><path d="M133.8,65 Q133.8,63.8 135,64 L138.8,64.6 Q140,64.8 140,66 L140,74 L133.8,72.6 Z" fill="#2d2d2d"/><polygon points="135.4,67 138.6,68.6 138.6,69.8 135.4,68.2" fill="#d03a2a"/><rect x="127.8" y="65.3" width="1" height="1.2" fill="#ddd"/><rect x="127.8" y="68" width="1" height="1.2" fill="#ddd"/><ellipse cx="132.5" cy="82.8" rx="6.7" ry="7.4" fill="#3a3a3a" stroke="#151515" stroke-width="0.8"/><path d="M128.5,79 A5.2,5.9 0 0 1 136.6,79.6" fill="none" stroke="#cfcfcf" stroke-width="0.8"/><path d="M136.8,86.2 A5.2,5.9 0 0 1 128.3,86" fill="none" stroke="#cfcfcf" stroke-width="0.8"/><ellipse cx="132.5" cy="82.8" rx="4" ry="4.6" fill="#2a2a2a"/><path d="M125.6,93 L131.3,93.8 L131.3,100.4 Q131.3,101.6 130.2,101.4 L126.8,100.8 Q125.6,100.6 125.6,99.4 Z" fill="#2d2d2d"/><rect x="127.6" y="94.6" width="1.6" height="5" fill="#cfcfcf"/><path d="M133.8,93.4 L140,95 L140,103 Q140,104.2 138.8,104 L135,103.2 Q133.8,103 133.8,101.8 Z" fill="#2d2d2d"/><polygon points="135.6,98.8 138.4,99.4 138.4,101.2 135.6,100.6" fill="#2faa4a"/><polygon points="88.8,95.30000000000001 91.60000000000001,95.9 91.60000000000001,96.9 88.8,96.30000000000001" fill="#d9d9d9"/><polygon points="101.6,98.60000000000001 104.4,99.2 104.4,100.2 101.6,99.60000000000001" fill="#d9d9d9"/><polygon points="116.0,102.10000000000001 118.80000000000001,102.7 118.80000000000001,103.7 116.0,103.10000000000001" fill="#d9d9d9"/><polygon points="130.29999999999998,106.30000000000001 133.1,106.9 133.1,107.9 130.29999999999998,107.30000000000001" fill="#d9d9d9"/><path d="M143.2,60.1 L187.7,61.3 Q193.9,62 194.3,67.6 L194.6,116.5 Q194.4,123.5 187.7,124.2 L177.6,124.6 L148.8,112.8 L142.6,108.6 Z" fill="url(#bezG)"/><path d="M144.4,65.1 L175.8,68.8 Q177.6,69.2 177.6,71.4 L176.4,110.8 Q176.3,113 174.2,112.5 L146.9,108.3 Q144.4,107.6 144.4,105.2 Z" fill="#181818"/><rect x="145.1" y="68.7" width="7.6" height="7.4" rx="1.6" fill="url(#redB)"/><polygon points="158.2,71.4 173.9,73.6 173.9,80.4 158.2,78" fill="#0e0e0e"/><text x="166" y="78" font-size="5" text-anchor="middle" transform="rotate(8 166 76)" style="fill:#d9d9d9" textLength="12" lengthAdjust="spacingAndGlyphs">Hytera</text><polygon points="146.3,80.1 173.9,84.5 173.9,89.1 146.3,84.69999999999999" fill="#3b3b3b"/><polygon points="146.3,83.5 173.9,87.89999999999999 173.9,89.1 146.3,84.69999999999999" fill="#2a2a2a"/><polygon points="146.3,88.6 173.9,93.0 173.9,97.6 146.3,93.19999999999999" fill="#3b3b3b"/><polygon points="146.3,92.0 173.9,96.39999999999999 173.9,97.6 146.3,93.19999999999999" fill="#2a2a2a"/><polygon points="146.3,97.0 173.9,101.4 173.9,106.0 146.3,101.6" fill="#3b3b3b"/><polygon points="146.3,100.4 173.9,104.8 173.9,106.0 146.3,101.6" fill="#2a2a2a"/><polygon points="73,47.6 86,49.4 86,89.5 73,88.5" fill="#191919"/><ellipse cx="71.2" cy="58" rx="9.3" ry="10.3" fill="#1a1a1a"/><ellipse cx="68.2" cy="58" rx="6.5" ry="9.3" fill="#8c8f8c" stroke="#2db35a" stroke-width="1.5"/><path d="M68.2,50.2 L68.2,65.8 M63,54 L73.4,62 M63,62 L73.4,54" stroke="#b9bcb9" stroke-width="0.9"/><ellipse cx="68.2" cy="58" rx="1.7" ry="2.4" fill="#a8aba8"/><circle cx="81.9" cy="69.1" r="2.9" fill="#f47c16"/><path d="M64,31.5 L49,32.8 C40,34.6 30,40 24,52 C18,64 11.5,75 16,86 Q19,91.5 27,93.5" fill="none" stroke="#242424" stroke-width="2.6" stroke-linecap="round"/><path d="M36,93 Q40,86 47,82.6" fill="none" stroke="#2a2a2a" stroke-width="2.6" stroke-linecap="round"/><path d="M45.8,80.6 L56,77 L62,73.6 L86,72.8 L86,89 L63,88.8 L56,86.6 L45.8,84.8 Z" fill="#181818"/><path d="M63,74 L63,88.6 M67.5,73.6 L67.5,88.8 M72,73.4 L72,88.8" stroke="#333" stroke-width="0.8"/><path d="M15,97 Q34,105.4 55.4,100" fill="none" stroke="#1b1b1b" stroke-width="13.6" stroke-linecap="round"/><path d="M11.3,91.4 Q14.7,96.8 12.9,102.4" fill="none" stroke="#3a3a3a" stroke-width="0.8"/><path d="M14.9,93.0 Q18.3,98.4 16.5,104.0" fill="none" stroke="#3a3a3a" stroke-width="0.8"/><path d="M18.5,94.3 Q21.9,99.7 20.1,105.3" fill="none" stroke="#3a3a3a" stroke-width="0.8"/><path d="M22.1,95.4 Q25.4,100.8 23.6,106.4" fill="none" stroke="#3a3a3a" stroke-width="0.8"/><path d="M25.6,96.3 Q29.0,101.7 27.2,107.3" fill="none" stroke="#3a3a3a" stroke-width="0.8"/><path d="M29.2,96.9 Q32.6,102.3 30.8,107.9" fill="none" stroke="#3a3a3a" stroke-width="0.8"/><path d="M32.8,97.3 Q36.2,102.7 34.4,108.3" fill="none" stroke="#3a3a3a" stroke-width="0.8"/><path d="M36.4,97.4 Q39.8,102.8 38.0,108.4" fill="none" stroke="#3a3a3a" stroke-width="0.8"/><path d="M40.0,97.3 Q43.4,102.7 41.6,108.3" fill="none" stroke="#3a3a3a" stroke-width="0.8"/><path d="M43.5,96.9 Q47.0,102.3 45.1,107.9" fill="none" stroke="#3a3a3a" stroke-width="0.8"/><path d="M47.1,96.3 Q50.5,101.7 48.7,107.3" fill="none" stroke="#3a3a3a" stroke-width="0.8"/><path d="M50.7,95.5 Q54.1,100.9 52.3,106.5" fill="none" stroke="#3a3a3a" stroke-width="0.8"/><path d="M54.3,94.4 Q57.7,99.8 55.9,105.4" fill="none" stroke="#3a3a3a" stroke-width="0.8"/><path d="M63.2,23.5 Q63.4,19.6 66.8,17.7 L83.2,11.5 Q95,9.4 106.2,9.8 Q110.6,10.6 112.1,13.8 L116.4,29.5 Q117.4,36 116,40.7 Q114.6,45 110.8,45.9 Q91,48.2 71.4,46.3 Q68,45 66.8,42 Z" fill="url(#micG)"/><path d="M84.5,11.2 Q85,7.9 90,7.6 L100,7.4 Q105,7.6 105.6,10 Q95,9.4 84.5,11.2 Z" fill="#f39a1e"/><polygon points="74,18.6 104,13.6 110.5,36.5 84,41.4" fill="#1c1c1c"/><polygon points="75.6,18.3 80.0,17.6 86.6,40.0 82.4,40.7" fill="#3d3d3d"/><polygon points="83.0,17.1 87.4,16.4 94.0,38.7 89.8,39.4" fill="#3d3d3d"/><polygon points="90.4,15.9 94.8,15.2 101.4,37.4 97.2,38.1" fill="#3d3d3d"/><polygon points="97.8,14.7 102.2,14.0 108.8,36.1 104.6,36.8" fill="#3d3d3d"/><path d="M78.8,17.6 L85,41" stroke="#8d8d8d" stroke-width="0.7"/><path d="M107.6,21 L109.6,30" stroke="#777" stroke-width="0.8"/><path d="M49,30.5 Q50,28.6 54,28.4 L64,28 Q68.4,28.6 68.4,32.8 Q68.4,37 64,37.4 L54,36.6 Q50,36.4 49,34.8 Z" fill="#1c1c1c"/></g><filter id="cloudF" x="-15%" y="-15%" width="130%" height="130%" color-interpolation-filters="sRGB">
<feFlood flood-color="#7FA9BE" result="dark"/>
<feComposite in="dark" in2="SourceAlpha" operator="out" result="outside"/>
<feGaussianBlur in="outside" stdDeviation="9" result="blur1"/>
<feGaussianBlur in="outside" stdDeviation="24" result="blur2"/>
<feComposite in="blur1" in2="SourceAlpha" operator="in" result="inner1"/>
<feComposite in="blur2" in2="SourceAlpha" operator="in" result="inner2"/>
<feMerge><feMergeNode in="SourceGraphic"/><feMergeNode in="inner2"/><feMergeNode in="inner1"/></feMerge>
</filter></defs>
<ellipse cx="538.5" cy="332.5" rx="436" ry="302.5" fill="url(#gY)"/>
<ellipse cx="1482" cy="332.5" rx="440" ry="302.5" fill="url(#gP)"/>
<use href="#bolt" x="357.3" y="234.3" width="95.8" height="23.7" fill="#069A38"/>
<use href="#bolt" x="397.4" y="656" width="92.3" height="23" fill="#069A38"/>
<use href="#bolt" x="1343.4" y="233.9" width="69.6" height="17.2" fill="#FF0000"/>
<use href="#bolt" x="1503.45" y="166.4" width="68.5" height="17.2" fill="#FF0000" transform="rotate(-4.5 1537.7 175.0)"/>
<use href="#bolt" x="1594.6" y="373.2" width="68.8" height="17" fill="#FF0000"/>
<use href="#bolt" x="1491.2" y="655.9" width="91.5" height="22.7" fill="#FF0000"/>
<text x="489.7" y="80.9" font-size="34.5" font-weight="700" stroke="#000" stroke-width="0.55" textLength="83.4" lengthAdjust="spacingAndGlyphs">Site 1</text>
<text x="1410.2" y="86.2" font-size="34.5" font-weight="700" stroke="#000" stroke-width="0.55" textLength="87.8" lengthAdjust="spacingAndGlyphs">Site 2</text>
<text x="267.6" y="404.0" font-size="28" textLength="184.6" lengthAdjust="spacingAndGlyphs">Tier II Repeater</text>
<text x="300.2" y="515.9" font-size="28" textLength="82.4" lengthAdjust="spacingAndGlyphs">Router</text>
<text x="1197.4" y="415.2" font-size="28" textLength="185.2" lengthAdjust="spacingAndGlyphs">Tier II Repeater</text>
<text x="1243.8" y="517.0" font-size="28" textLength="82.4" lengthAdjust="spacingAndGlyphs">Router</text>
<text x="289.8" y="710.3" font-size="28" textLength="313.8" lengthAdjust="spacingAndGlyphs">Site 1 Group Call Initiated</text>
<text x="1390" y="710" font-size="28" textLength="322" lengthAdjust="spacingAndGlyphs">Site 2 Group Call Received</text>
<use href="#radioA" x="218" y="129"/>
<use href="#radioB" x="292" y="129"/>
<use href="#radioA" x="688" y="259.3"/>
<use href="#radioB" x="762.3" y="259.3"/>
<use href="#radioA" x="1208.5" y="122"/>
<use href="#radioB" x="1282.5" y="122"/>
<use href="#radioA" x="1670" y="301.5"/>
<use href="#radioB" x="1744" y="301.5"/>
<use href="#tower" x="522.5" y="118"/>
<use href="#tower" x="1462.5" y="130.3"/>
<use href="#router"/>
<use href="#repeater"/>
<use href="#router" x="944.7" y="5"/>
<use href="#repeater" x="941.7" y="5"/>
<use href="#mobile" x="560" y="90"/>
<use href="#mobile" x="1534" y="145"/>
<line x1="555.5" y1="580.5" x2="826" y2="706.6" stroke="#0B2E8E" stroke-width="3.8"/>
<line x1="1472" y1="584" x2="1184" y2="711.2" stroke="#0B2E8E" stroke-width="3.8"/>
<g filter="url(#cloudF)" fill="#EDF3F6">
<ellipse cx="899" cy="705" rx="77" ry="45"/>
<ellipse cx="1004" cy="685" rx="85" ry="47"/>
<ellipse cx="1121" cy="716" rx="68" ry="44"/>
<ellipse cx="956" cy="762" rx="88" ry="44"/>
<ellipse cx="1064" cy="770" rx="65" ry="34"/>
<ellipse cx="1005" cy="725" rx="120" ry="45"/>
</g>
<text x="929.9" y="733.6" font-size="28" font-weight="700" stroke="#000" stroke-width="0.55" textLength="145.4" lengthAdjust="spacingAndGlyphs">IP Network</text>
</svg>
</body></html>
